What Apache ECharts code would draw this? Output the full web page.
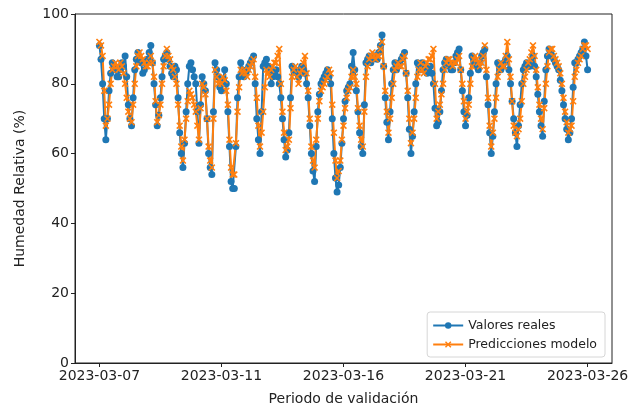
<!DOCTYPE html>
<html>
<head>
<meta charset="utf-8">
<script src="https://cdn.jsdelivr.net/npm/echarts@6/dist/echarts.min.js"></script>
<style>
  html, body { margin: 0; padding: 0; background: #fff; }
  #chart { width: 635px; height: 414px; }
</style>
</head>
<body>
<div id="chart"></div>
<script>
// etiquetas del eje x y su posicion (indice de muestra)
const fechas = ['2023-03-07', '2023-03-11', '2023-03-16', '2023-03-21', '2023-03-26'];
const posFechas = [0, 76, 152, 228, 304];

const reales = [91,87,80,70,64,70,78,83,86,85,84,82,82,84,86,85,88,82,74,70,
  68,76,84,87,89,87,86,83,84,86,87,89,91,86,80,74,68,71,76,82,
  87,88,89,87,85,83,82,85,84,76,66,60,56,63,72,80,85,86,84,82,
  80,72,63,74,82,80,78,70,60,56,54,72,86,84,82,79,78,81,84,80,
  72,62,52,50,50,62,76,82,86,84,82,83,84,85,86,87,88,80,70,64,
  60,72,85,86,87,85,84,80,82,83,84,82,80,76,70,64,59,61,66,76,
  85,84,84,83,82,84,85,84,83,80,76,68,60,55,52,62,72,77,80,81,
  82,83,84,82,80,70,60,53,49,51,56,63,70,75,78,79,80,85,89,84,
  78,72,66,62,60,74,86,87,88,86,87,88,88,87,89,91,94,85,76,69,
  64,72,80,84,86,84,85,86,87,88,89,83,76,67,60,65,72,80,86,85,
  84,86,85,84,83,84,85,83,80,73,68,69,72,78,84,86,87,86,85,84,
  84,86,88,89,90,84,78,72,68,71,76,83,88,87,86,85,84,86,88,89,
  90,82,74,66,60,65,72,80,86,85,84,85,86,87,88,84,80,75,70,66,
  62,68,74,80,84,85,86,85,85,86,88,85,82,77,72,68,65,75,84,88,
  90,89,88,87,86,85,84,81,78,74,70,67,64,66,70,79,86,86,87,88,
  89,90,92,88,84];

const predicciones = [92,91,88,78,68,70,74,80,84,85,86,85,84,86,85,83,80,76,72,70,
  69,74,80,85,88,89,88,87,86,85,85,86,88,86,82,75,69,71,74,80,
  85,88,90,88,87,85,84,82,80,74,68,62,58,64,70,75,78,77,76,74,
  72,68,64,73,80,79,77,70,62,58,56,70,84,82,80,81,80,82,81,78,
  74,64,56,54,54,63,72,79,84,83,84,83,82,84,85,86,87,82,76,68,
  62,66,72,79,84,83,82,84,85,86,86,88,90,80,72,66,61,62,64,73,
  82,84,85,82,80,83,84,86,88,83,78,70,62,58,56,64,70,75,78,79,
  80,81,82,84,83,74,66,58,53,55,58,64,68,73,76,78,79,82,84,82,
  80,73,68,64,62,72,82,85,87,88,89,88,87,88,88,90,92,85,78,72,
  66,70,76,80,84,85,86,85,85,87,88,83,78,70,63,66,70,76,82,84,
  86,84,83,85,86,87,87,88,90,80,70,72,74,77,80,84,86,87,87,86,
  85,86,86,87,88,84,80,75,70,72,74,80,85,87,88,87,86,85,86,88,
  91,84,76,68,62,66,70,76,82,84,86,85,85,88,92,87,82,75,68,66,
  65,67,70,75,80,82,84,86,87,89,91,88,84,79,74,70,67,73,80,85,
  89,90,90,88,87,86,85,83,80,76,72,69,66,67,68,75,82,84,86,87,
  88,90,91,91,90];

const azul = '#1f77b4';
const naranja = '#ff7f0e';
const marcaX = 'path://M0,1.6L1.6,0L5,3.4L8.4,0L10,1.6L6.6,5L10,8.4L8.4,10L5,6.6L1.6,10L0,8.4L3.4,5Z';
const fuente = 'DejaVu Sans';

let n = reales.length - 1;
let margen = n * 0.05;

let option = {
  animation: false,
  backgroundColor: '#fff',
  grid: {
    left: 75,
    top: 14,
    width: 537,
    height: 349,
    show: true,
    borderColor: '#222',
    borderWidth: 1
  },
  legend: {
    orient: 'vertical',
    right: 30,
    bottom: 57,
    padding: [7, 8, 6, 5],
    itemGap: 6,
    itemWidth: 30,
    itemHeight: 8,
    backgroundColor: '#fff',
    borderColor: '#d6d6d6',
    borderWidth: 1,
    borderRadius: 3,
    textStyle: { fontFamily: fuente, fontSize: 12.5, color: '#222' },
    data: ['Valores reales', 'Predicciones modelo']
  },
  xAxis: {
    type: 'value',
    min: -margen,
    max: n + margen,
    name: 'Periodo de validación',
    nameLocation: 'middle',
    nameGap: 29,
    nameTextStyle: { fontFamily: fuente, fontSize: 14, color: '#222' },
    axisLine: { onZero: false, lineStyle: { color: '#222' } },
    axisTick: { customValues: posFechas, length: 4, lineStyle: { color: '#222' } },
    axisLabel: {
      customValues: posFechas,
      fontFamily: fuente,
      fontSize: 14,
      color: '#222',
      margin: 6,
      formatter: function (v) {
        let k = posFechas.indexOf(Math.round(v));
        return k >= 0 ? fechas[k] : '';
      }
    },
    splitLine: { show: false }
  },
  yAxis: {
    type: 'value',
    min: 0,
    max: 100,
    interval: 20,
    name: 'Humedad Relativa (%)',
    nameLocation: 'middle',
    nameGap: 48,
    nameTextStyle: { fontFamily: fuente, fontSize: 14, color: '#222' },
    axisLine: { show: true, onZero: false, lineStyle: { color: '#222' } },
    axisTick: { show: true, length: 4, lineStyle: { color: '#222' } },
    axisLabel: { fontFamily: fuente, fontSize: 14, color: '#222', margin: 6 },
    splitLine: { show: false }
  },
  series: [
    {
      name: 'Valores reales',
      type: 'line',
      data: reales.map((v, i) => [i, v]),
      symbol: 'circle',
      symbolSize: 7,
      showAllSymbol: true,
      lineStyle: { color: azul, width: 2 },
      itemStyle: { color: azul }
    },
    {
      name: 'Predicciones modelo',
      type: 'line',
      data: predicciones.map((v, i) => [i, v]),
      symbol: marcaX,
      symbolSize: 7,
      showAllSymbol: true,
      lineStyle: { color: naranja, width: 2 },
      itemStyle: { color: naranja }
    }
  ]
};

let myChart = echarts.init(document.getElementById('chart'));
myChart.setOption(option);
</script>
</body>
</html>
